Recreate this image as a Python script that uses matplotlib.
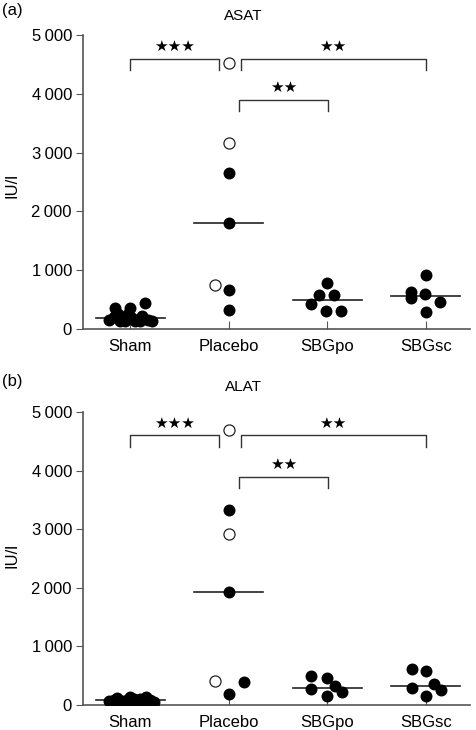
import matplotlib
matplotlib.use("Agg")
import matplotlib.pyplot as plt
import numpy as np

plt.rcParams["font.family"] = ["Liberation Sans", "DejaVu Sans"]

groups = ["Sham", "Placebo", "SBGpo", "SBGsc"]
yticks = [0, 1000, 2000, 3000, 4000, 5000]

# ASAT (IU/l): values, horizontal jitter, open circle flags
asat_sham = [150, 200, 350, 260, 140, 130, 250, 360, 180, 140, 130, 220, 450, 160, 140]
asat_sham_jit = [-0.22, -0.17, -0.15, -0.12, -0.10, -0.05, -0.02, 0.0, 0.02, 0.05, 0.10, 0.12, 0.15, 0.18, 0.22]
asat_placebo = [4530, 3170, 2650, 1800, 750, 665, 320]
asat_placebo_jit = [0, 0, 0, 0, -0.14, 0, 0]
asat_placebo_open = [True, True, False, False, True, False, False]
asat_po = [787, 578, 578, 425, 311, 311]
asat_po_jit = [0, -0.08, 0.07, -0.16, -0.01, 0.14]
asat_sc = [918, 624, 527, 595, 464, 284]
asat_sc_jit = [0, -0.15, -0.15, -0.01, 0.15, 0]

# ALAT (IU/l)
alat_sham = [60, 90, 120, 60, 80, 140, 100, 60, 50, 140, 90, 50, 40, 45, 110]
alat_sham_jit = [-0.22, -0.17, -0.13, -0.08, -0.03, 0.0, 0.04, 0.08, 0.12, 0.16, 0.20, 0.24, -0.10, 0.02, 0.10]
alat_placebo = [4700, 3320, 2918, 1926, 410, 388, 183]
alat_placebo_jit = [0, 0, 0, 0, -0.14, 0.16, 0]
alat_placebo_open = [True, False, True, False, True, False, False]
alat_po = [496, 456, 268, 325, 227, 154]
alat_po_jit = [-0.16, 0, -0.16, 0.08, 0.155, 0]
alat_sc = [610, 581, 296, 354, 256, 154]
alat_sc_jit = [-0.14, 0, -0.14, 0.08, 0.16, 0]

# significance brackets: (x0, x1, level, stars)
brackets = [(0, 0.905, 4600, "★★★"), (1.12, 3.0, 4600, "★★"), (1.107, 2.01, 3890, "★★")]


def PlotPanel(ax, data, title, letter, fig_y):
    for i, (vals, jit, opn) in enumerate(data):
        vals = np.array(vals)
        med = np.median(vals)
        ax.plot([i - 0.35, i + 0.35], [med, med], color="#222222", lw=1.2, zorder=2)
        xs = i + np.array(jit)
        opn = np.array(opn)
        ax.scatter(xs[~opn], vals[~opn], s=74, color="black", zorder=3, lw=0)
        ax.scatter(xs[opn], vals[opn], s=64, facecolor="white", edgecolor="#222222",
                   lw=0.9, zorder=3)

    for x0, x1, lev, stars in brackets:
        ax.plot([x0, x0, x1, x1], [lev - 190, lev, lev, lev - 190], color="#333333", lw=1.0)
        ax.text((x0 + x1) / 2, lev + 210, stars, ha="center", va="center",
                fontsize=11, family=["DejaVu Sans"])

    ax.set_xlim(-0.48, 3.45)
    ax.set_ylim(0, 5000)
    ax.spines["top"].set_visible(False)
    ax.spines["right"].set_visible(False)
    for s in ["left", "bottom"]:
        ax.spines[s].set_color("#555555")
        ax.spines[s].set_linewidth(1.2)
    ax.set_xticks(range(len(groups)))
    ax.set_xticklabels(groups, fontsize=12)
    ax.set_yticks(yticks)
    ax.set_yticklabels([f"{v // 1000}\u2009000" if v else "0" for v in yticks], fontsize=12)
    ax.tick_params(axis="y", direction="out", length=5, color="#555555", pad=3)
    ax.tick_params(axis="x", direction="in", length=6, color="#555555", pad=7)
    ax.patch.set_alpha(0)

    fig.text(243 / 476, 1 - (fig_y + 5) / 730, title, ha="center", va="center", fontsize=11)
    fig.text(2 / 476, 1 - fig_y / 730, letter, ha="left", va="center", fontsize=12)


fig = plt.figure(figsize=(4.76, 7.30), dpi=100)
ax_a = fig.add_axes([83 / 476, 1 - 329 / 730, (470 - 83) / 476, (329 - 35) / 730])
ax_b = fig.add_axes([83 / 476, 1 - 705 / 730, (470 - 83) / 476, (705 - 412) / 730])

PlotPanel(ax_a, [(asat_sham, asat_sham_jit, [False] * len(asat_sham)),
                 (asat_placebo, asat_placebo_jit, asat_placebo_open),
                 (asat_po, asat_po_jit, [False] * len(asat_po)),
                 (asat_sc, asat_sc_jit, [False] * len(asat_sc))],
          "ASAT", "(a)", 11)
PlotPanel(ax_b, [(alat_sham, alat_sham_jit, [False] * len(alat_sham)),
                 (alat_placebo, alat_placebo_jit, alat_placebo_open),
                 (alat_po, alat_po_jit, [False] * len(alat_po)),
                 (alat_sc, alat_sc_jit, [False] * len(alat_sc))],
          "ALAT", "(b)", 382)

fig.text(12 / 476, 1 - 185 / 730, "IU/l", rotation=90, ha="center", va="center", fontsize=12)
fig.text(12 / 476, 1 - 556 / 730, "IU/l", rotation=90, ha="center", va="center", fontsize=12)

fig.savefig("out.png", dpi=100)
